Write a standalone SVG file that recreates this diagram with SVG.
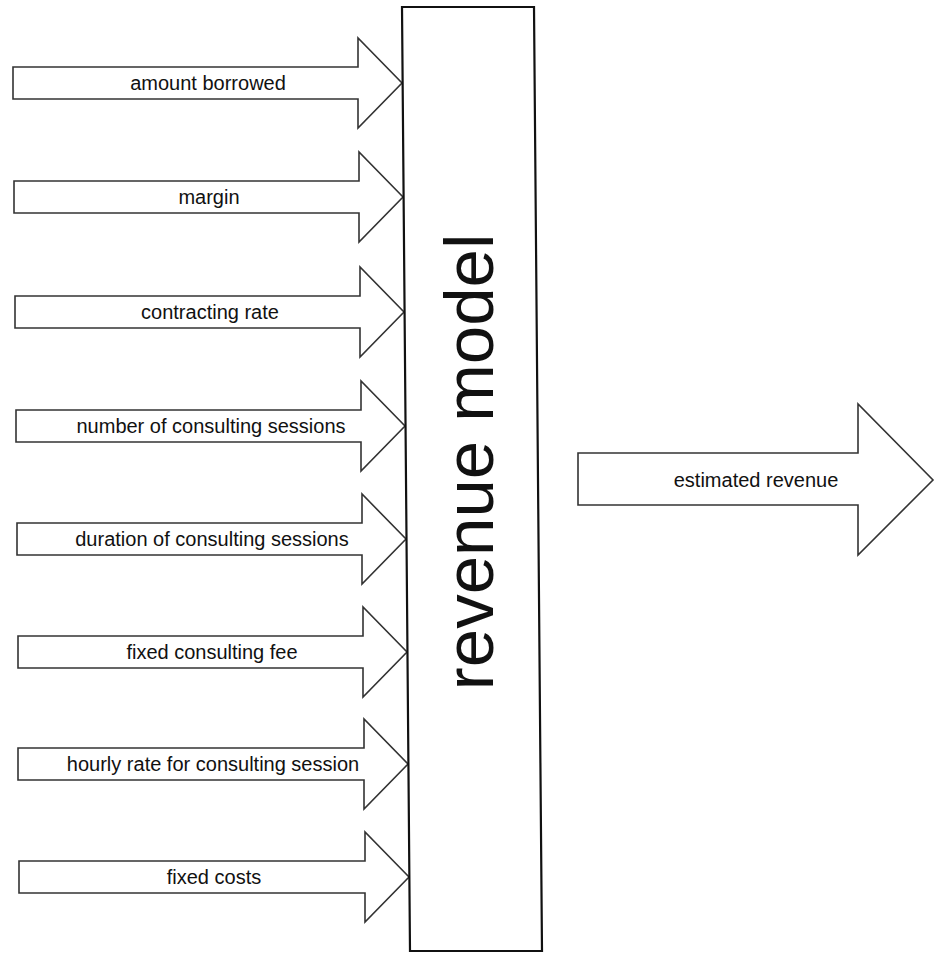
<svg xmlns="http://www.w3.org/2000/svg" width="935" height="954" viewBox="0 0 935 954">
<style>
.arrow{fill:#fff;stroke:#333;stroke-width:1.6;stroke-linejoin:miter}
.lbl{font-family:"Liberation Sans",Arial,sans-serif;font-size:20px;fill:#111;text-anchor:middle}
.box{fill:#fff;stroke:#111;stroke-width:2.2}
.big{font-family:"Liberation Sans",Arial,sans-serif;font-size:69px;fill:#111;text-anchor:middle}
</style>
<rect width="935" height="954" fill="#fff"/>
<g id="connectors">
<g id="in1"><path class="arrow" d="M13,67 H358 V38 L402,83 L358,128 V99 H13 Z"/><text class="lbl" x="208" y="90">amount borrowed</text></g>
<g id="in2"><path class="arrow" d="M14,181 H359 V152 L403,197 L359,242 V213 H14 Z"/><text class="lbl" x="209" y="204">margin</text></g>
<g id="in3"><path class="arrow" d="M15,296 H360 V267 L404,312 L360,357 V328 H15 Z"/><text class="lbl" x="210" y="319">contracting rate</text></g>
<g id="in4"><path class="arrow" d="M16,410 H361 V381 L405,426 L361,471 V442 H16 Z"/><text class="lbl" x="211" y="433">number of consulting sessions</text></g>
<g id="in5"><path class="arrow" d="M17,523 H362 V494 L406,539 L362,584 V555 H17 Z"/><text class="lbl" x="212" y="546">duration of consulting sessions</text></g>
<g id="in6"><path class="arrow" d="M18,636 H363 V607 L407,652 L363,697 V668 H18 Z"/><text class="lbl" x="212" y="659">fixed consulting fee</text></g>
<g id="in7"><path class="arrow" d="M18,748 H364 V719 L408,764 L364,809 V780 H18 Z"/><text class="lbl" x="213" y="771">hourly rate for consulting session</text></g>
<g id="in8"><path class="arrow" d="M19,861 H365 V832 L409,877 L365,922 V893 H19 Z"/><text class="lbl" x="214" y="884">fixed costs</text></g>
</g>
<g id="revenue-model">
<polygon class="box" points="402,7 534,7 542,951 410,951"/>
<text class="big" transform="translate(493,462) rotate(-90)">revenue model</text>
</g>
<g id="estimated-revenue">
<path class="arrow" d="M578,453 H858 V404 L933,480 L858,555 V505 H578 Z"/>
<text class="lbl" x="756" y="487">estimated revenue</text>
</g>
</svg>
